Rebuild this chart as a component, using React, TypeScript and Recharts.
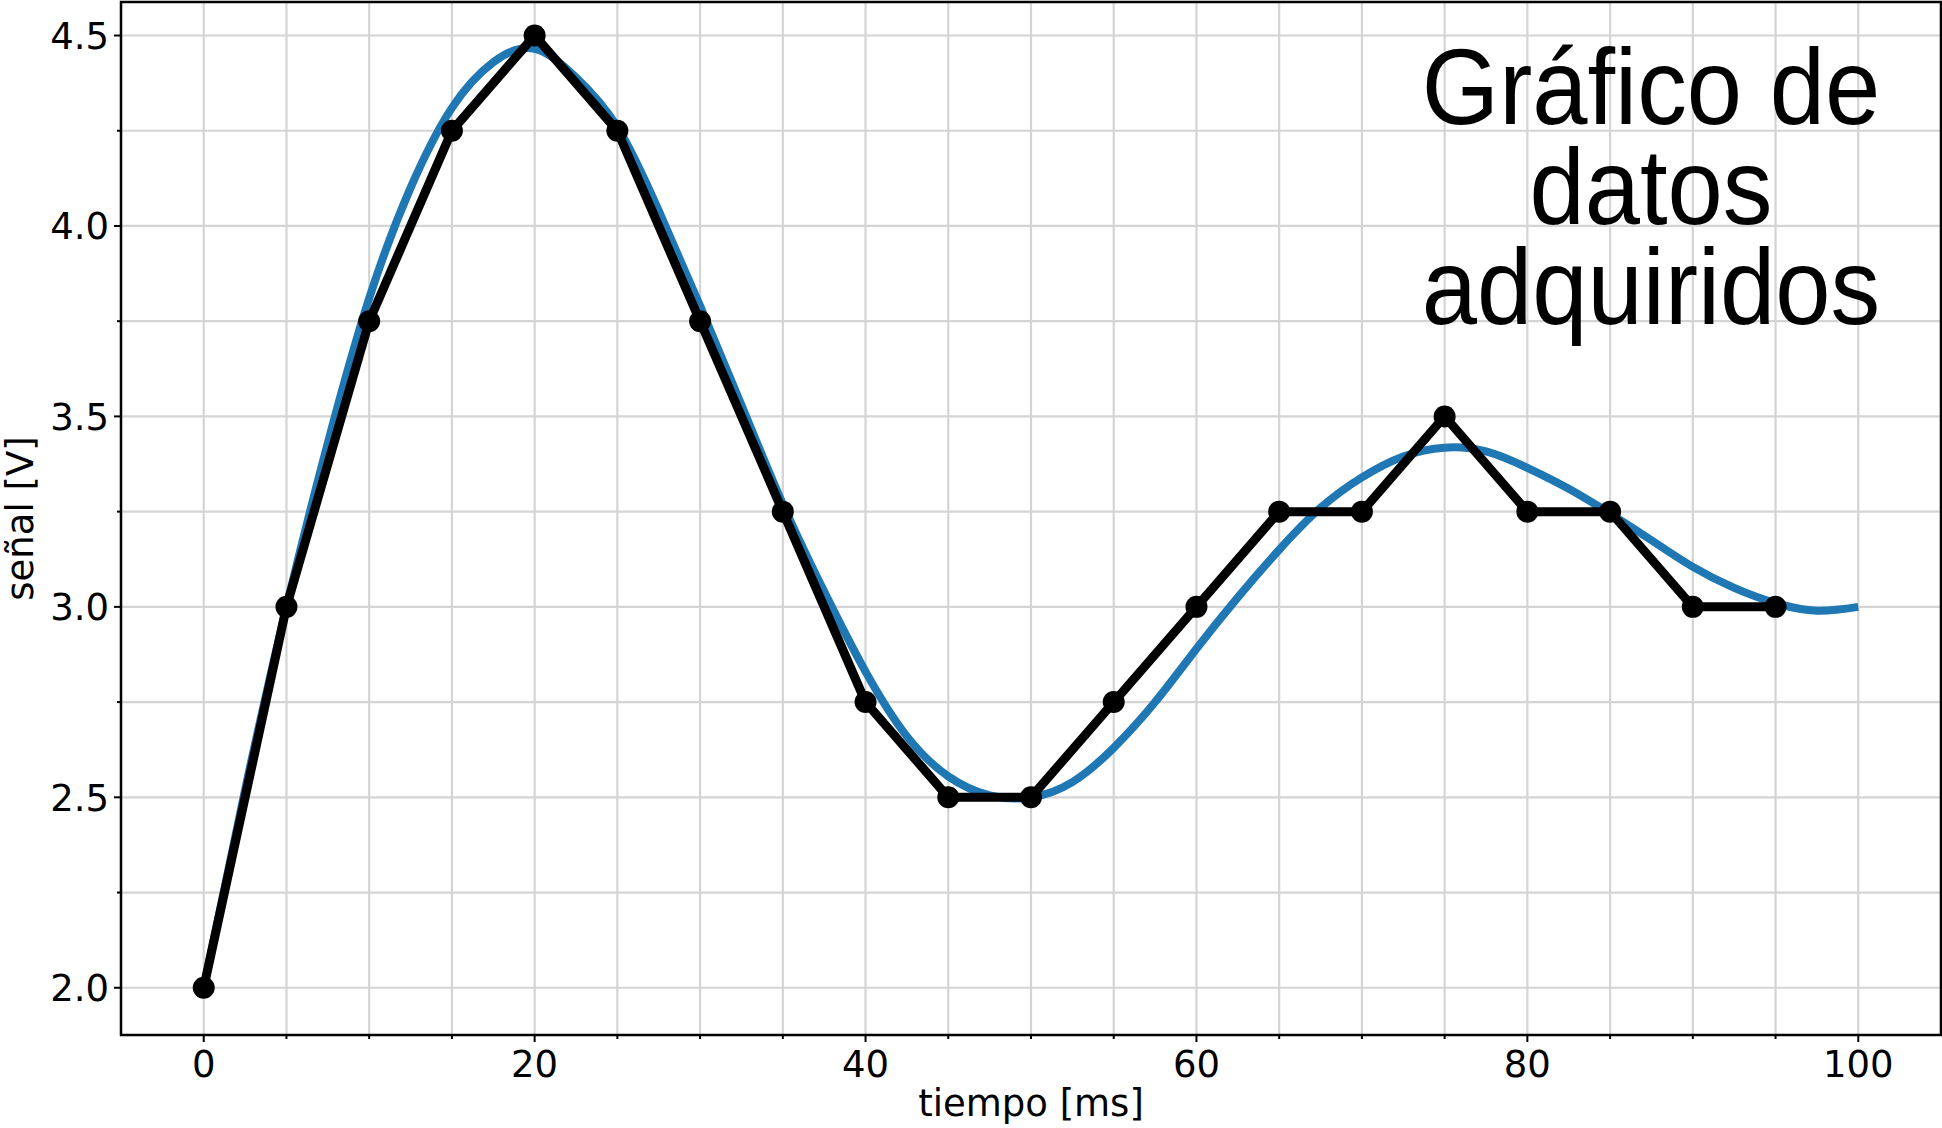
import { LineChart, Line, XAxis, YAxis, CartesianGrid, ReferenceArea } from 'recharts'

// muestras adquiridas (puntos negros)
const sampleTimes = [0, 5, 10, 15, 20, 25, 30, 35, 40, 45, 50, 55, 60, 65, 70, 75, 80, 85, 90, 95]
const sampleValues = [2.0, 3.0, 3.75, 4.25, 4.5, 4.25, 3.75, 3.25, 2.75, 2.5, 2.5, 2.75, 3.0, 3.25, 3.25, 3.5, 3.25, 3.25, 3.0, 3.0]

// señal continua (curva azul), leída cada 2.5 ms
const fitTimes = [
  0, 2.5, 5, 7.5, 10, 12.5, 15, 17.5, 20, 22.5, 25, 27.5, 30, 32.5, 35, 37.5, 40, 42.5, 45, 47.5,
  50, 52.5, 55, 57.5, 60, 62.5, 65, 67.5, 70, 72.5, 75, 77.5, 80, 82.5, 85, 87.5, 90, 92.5, 95, 97.5, 100,
]
const fitValues = [
  2.0, 2.52, 3.0, 3.43, 3.81, 4.1, 4.31, 4.43, 4.465, 4.39, 4.26, 4.04, 3.79, 3.53, 3.27, 3.04, 2.83, 2.66, 2.555, 2.505,
  2.5, 2.54, 2.63, 2.75, 2.89, 3.025, 3.15, 3.26, 3.34, 3.395, 3.418, 3.408, 3.365, 3.31, 3.245, 3.175, 3.105, 3.05, 3.01, 2.99, 3.0,
]

const xTicks = [0, 5, 10, 15, 20, 25, 30, 35, 40, 45, 50, 55, 60, 65, 70, 75, 80, 85, 90, 95, 100]
const yTicks = [2.0, 2.25, 2.5, 2.75, 3.0, 3.25, 3.5, 3.75, 4.0, 4.25, 4.5]
const xDomain = [-5, 105]
const yDomain = [1.876, 4.588]

const titleLines = ['Gráfico de', 'datos', 'adquiridos']

const samples = sampleTimes.map((t, i) => ({ t, v: sampleValues[i] }))
const fit = fitTimes.map((t, i) => ({ t, v: fitValues[i] }))

const FONT = '"DejaVu Sans", sans-serif'

function XTick(props: any) {
  const { x, y, payload } = props
  const v = payload.value
  const major = v % 20 === 0
  return (
    <g>
      <line x1={x} x2={x} y1={y} y2={y + (major ? 7 : 4)} stroke="#000" strokeWidth={2} />
      {major && (
        <text x={x} y={y + 42} textAnchor="middle" fontSize={37} fill="#000" fontFamily={FONT}>
          {v}
        </text>
      )}
    </g>
  )
}

function YTick(props: any) {
  const { x, y, payload } = props
  const v = payload.value
  const major = Math.abs(v * 2 - Math.round(v * 2)) < 1e-6
  return (
    <g>
      <line x1={x} x2={x - (major ? 7 : 4)} y1={y} y2={y} stroke="#000" strokeWidth={2} />
      {major && (
        <text x={x - 12} y={y + 13.5} textAnchor="end" fontSize={37} fill="#000" fontFamily={FONT}>
          {v.toFixed(1)}
        </text>
      )}
    </g>
  )
}

export default function App() {
  return (
    <div style={{ position: 'relative', width: 1942, height: 1128, background: '#fff' }}>
      <style>{'body{margin:0}'}</style>
      <LineChart width={1942} height={1128} margin={{ top: 2, right: 1, bottom: 0, left: 0 }}>
        <CartesianGrid stroke="#d4d4d4" strokeWidth={2.2} />
        <XAxis
          dataKey="t"
          type="number"
          domain={xDomain}
          ticks={xTicks}
          interval={0}
          height={93}
          axisLine={false}
          tickLine={false}
          tickSize={0}
          tickMargin={0}
          tick={<XTick />}
          allowDuplicatedCategory={false}
          label={{
            value: 'tiempo [ms]',
            position: 'insideBottom',
            offset: 12,
            style: { fontSize: 37, fill: '#000', fontFamily: FONT },
          }}
        />
        <YAxis
          type="number"
          domain={yDomain}
          ticks={yTicks}
          interval={0}
          width={121}
          axisLine={false}
          tickLine={false}
          tickSize={0}
          tickMargin={0}
          tick={<YTick />}
          label={{
            value: 'señal [V]',
            angle: -90,
            position: 'insideLeft',
            offset: 20,
            style: { textAnchor: 'middle', fontSize: 37, fill: '#000', fontFamily: FONT },
          }}
        />
        <Line
          data={fit}
          dataKey="v"
          type="natural"
          stroke="#1f77b4"
          strokeWidth={8}
          dot={false}
          activeDot={false}
          isAnimationActive={false}
        />
        <Line
          data={samples}
          dataKey="v"
          type="linear"
          stroke="#000"
          strokeWidth={9}
          strokeLinejoin="round"
          dot={{ r: 11, fill: '#000', stroke: '#000', strokeWidth: 0 }}
          activeDot={false}
          isAnimationActive={false}
        />
        <ReferenceArea
          x1={xDomain[0]}
          x2={xDomain[1]}
          y1={yDomain[0]}
          y2={yDomain[1]}
          fill="none"
          fillOpacity={0}
          stroke="#000"
          strokeWidth={2.5}
          ifOverflow="visible"
        />
      </LineChart>
      <svg
        width={1942}
        height={1128}
        style={{ position: 'absolute', left: 0, top: 0, pointerEvents: 'none' }}
      >
        {titleLines.map((line, i) => (
          <g key={line} transform={`translate(1651, ${124 + i * 100}) scale(0.92, 1)`}>
            <text
              x={0}
              y={0}
              textAnchor="middle"
              fontSize={108}
              fill="#000"
              fontFamily='"Liberation Sans", Arial, sans-serif'
            >
              {line}
            </text>
          </g>
        ))}
      </svg>
    </div>
  )
}
